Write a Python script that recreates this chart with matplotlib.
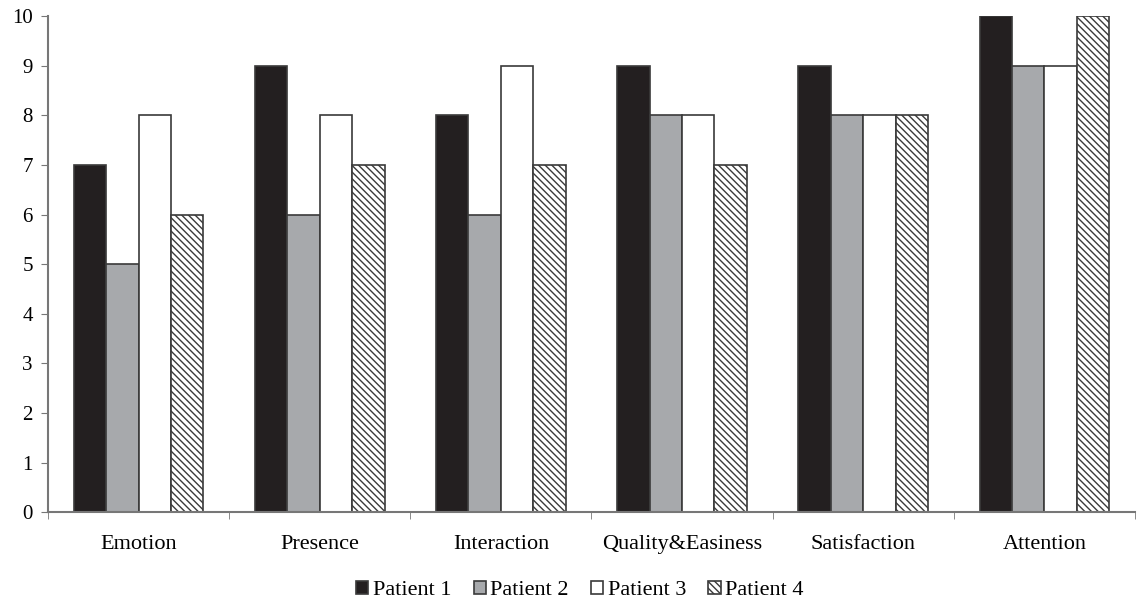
import numpy as np
import matplotlib.pyplot as plt

plt.rcParams['font.family'] = 'Liberation Serif'
plt.rcParams['hatch.linewidth'] = 1.0

categories = ['Emotion', 'Presence', 'Interaction', 'Quality&Easiness', 'Satisfaction', 'Attention']
patients = ['Patient 1', 'Patient 2', 'Patient 3', 'Patient 4']
patient1 = [7, 9, 8, 9, 9, 10]
patient2 = [5, 6, 6, 8, 8, 9]
patient3 = [8, 8, 9, 8, 8, 9]
patient4 = [6, 7, 7, 7, 8, 10]

series = [patient1, patient2, patient3, patient4]
colors = ['#231f20', '#a7a9ac', 'white', 'white']
hatches = [None, None, None, '\\\\\\\\\\']

fig = plt.figure(figsize=(11.37, 6.02), dpi=100)
ax = fig.add_axes([0.0422, 0.149, 0.956, 0.824])

x = np.arange(len(categories))
w = 0.179
for i, vals in enumerate(series):
    ax.bar(x + (i - 1.5) * w, vals, w, color=colors[i], edgecolor='#3a3a3a',
           linewidth=1.2, hatch=hatches[i], label=patients[i])

ax.set_xlim(-0.5, len(categories) - 0.5)
ax.set_ylim(0, 10)
ax.set_yticks(range(0, 11))
ax.set_xticks(x)
ax.set_xticklabels(categories, fontsize=16)
ax.set_xticks(np.arange(-0.5, len(categories)), minor=True)
ax.tick_params(axis='x', which='major', length=0, pad=16)
ax.tick_params(axis='x', which='minor', length=5, color='#777777', direction='out')
ax.tick_params(axis='y', labelsize=15, length=5, color='#777777', direction='out', pad=6)
for s in ['top', 'right']:
    ax.spines[s].set_visible(False)
for s in ['left', 'bottom']:
    ax.spines[s].set_color('#777777')
    ax.spines[s].set_linewidth(1.5)

fig.legend(loc='lower center', ncol=4, frameon=False, fontsize=16,
           bbox_to_anchor=(0.51, -0.03), handlelength=0.55, handleheight=0.55,
           handletextpad=0.2, columnspacing=1.0)

fig.savefig('out.png', dpi=100)
